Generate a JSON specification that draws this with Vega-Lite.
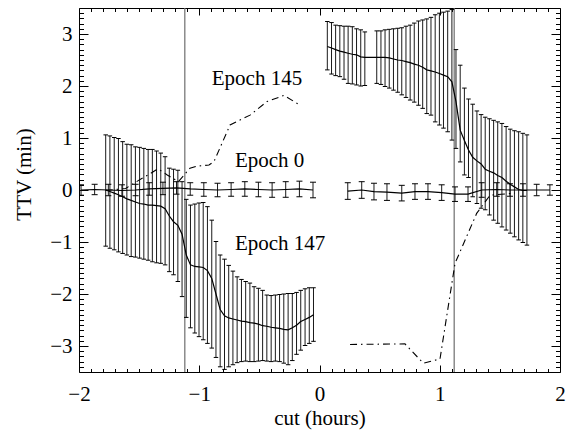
{
  "$schema": "https://vega.github.io/schema/vega-lite/v6.json",
  "autosize": {"type": "none"},
  "padding": {"left": 79, "top": 8, "right": 10, "bottom": 58},
  "width": 481,
  "height": 364,
  "background": "white",
  "config": {
    "view": {"stroke": "black", "strokeWidth": 1},
    "axis": {
      "labelFont": "Liberation Serif, Times New Roman, serif", "titleFont": "Liberation Serif, Times New Roman, serif",
      "labelFontSize": 21, "titleFontSize": 21, "titleFontWeight": "normal",
      "labelColor": "black", "titleColor": "black", "tickColor": "black", "tickWidth": 1,
      "grid": false, "domain": false, "labelFlush": false, "labelOverlap": false, "labelBound": false
    }
  },
  "datasets": {
    "vlines": [{"x": -1.12}, {"x": 1.12}],
    "bars": [
      {"s": "Epoch 147", "x": -1.778, "y": 0.00, "lo": -1.08, "hi": 1.06},
      {"s": "Epoch 147", "x": -1.743, "y": -0.03, "lo": -1.12, "hi": 1.04},
      {"s": "Epoch 147", "x": -1.707, "y": -0.06, "lo": -1.15, "hi": 1.01},
      {"s": "Epoch 147", "x": -1.672, "y": -0.09, "lo": -1.19, "hi": 0.99},
      {"s": "Epoch 147", "x": -1.637, "y": -0.13, "lo": -1.22, "hi": 0.93},
      {"s": "Epoch 147", "x": -1.602, "y": -0.17, "lo": -1.25, "hi": 0.88},
      {"s": "Epoch 147", "x": -1.566, "y": -0.20, "lo": -1.28, "hi": 0.87},
      {"s": "Epoch 147", "x": -1.531, "y": -0.23, "lo": -1.29, "hi": 0.83},
      {"s": "Epoch 147", "x": -1.496, "y": -0.26, "lo": -1.31, "hi": 0.82},
      {"s": "Epoch 147", "x": -1.461, "y": -0.27, "lo": -1.33, "hi": 0.80},
      {"s": "Epoch 147", "x": -1.425, "y": -0.29, "lo": -1.35, "hi": 0.78},
      {"s": "Epoch 147", "x": -1.390, "y": -0.29, "lo": -1.38, "hi": 0.78},
      {"s": "Epoch 147", "x": -1.355, "y": -0.30, "lo": -1.40, "hi": 0.75},
      {"s": "Epoch 147", "x": -1.320, "y": -0.31, "lo": -1.41, "hi": 0.71},
      {"s": "Epoch 147", "x": -1.284, "y": -0.36, "lo": -1.44, "hi": 0.64},
      {"s": "Epoch 147", "x": -1.249, "y": -0.50, "lo": -1.57, "hi": 0.42},
      {"s": "Epoch 147", "x": -1.214, "y": -0.61, "lo": -1.63, "hi": 0.40},
      {"s": "Epoch 147", "x": -1.178, "y": -0.68, "lo": -1.76, "hi": 0.38},
      {"s": "Epoch 147", "x": -1.143, "y": -0.85, "lo": -2.05, "hi": 0.16},
      {"s": "Epoch 147", "x": -1.108, "y": -1.25, "lo": -2.45, "hi": -0.18},
      {"s": "Epoch 147", "x": -1.073, "y": -1.44, "lo": -2.65, "hi": -0.29},
      {"s": "Epoch 147", "x": -1.037, "y": -1.47, "lo": -2.75, "hi": -0.27},
      {"s": "Epoch 147", "x": -1.002, "y": -1.48, "lo": -2.82, "hi": -0.25},
      {"s": "Epoch 147", "x": -0.967, "y": -1.49, "lo": -2.88, "hi": -0.24},
      {"s": "Epoch 147", "x": -0.932, "y": -1.55, "lo": -2.95, "hi": -0.32},
      {"s": "Epoch 147", "x": -0.896, "y": -1.70, "lo": -3.04, "hi": -0.58},
      {"s": "Epoch 147", "x": -0.861, "y": -2.00, "lo": -3.22, "hi": -0.99},
      {"s": "Epoch 147", "x": -0.826, "y": -2.30, "lo": -3.40, "hi": -1.25},
      {"s": "Epoch 147", "x": -0.790, "y": -2.42, "lo": -3.45, "hi": -1.33},
      {"s": "Epoch 147", "x": -0.755, "y": -2.46, "lo": -3.40, "hi": -1.45},
      {"s": "Epoch 147", "x": -0.720, "y": -2.48, "lo": -3.36, "hi": -1.56},
      {"s": "Epoch 147", "x": -0.685, "y": -2.50, "lo": -3.32, "hi": -1.67},
      {"s": "Epoch 147", "x": -0.649, "y": -2.52, "lo": -3.30, "hi": -1.72},
      {"s": "Epoch 147", "x": -0.614, "y": -2.53, "lo": -3.29, "hi": -1.76},
      {"s": "Epoch 147", "x": -0.579, "y": -2.55, "lo": -3.30, "hi": -1.79},
      {"s": "Epoch 147", "x": -0.544, "y": -2.56, "lo": -3.30, "hi": -1.86},
      {"s": "Epoch 147", "x": -0.508, "y": -2.58, "lo": -3.29, "hi": -1.89},
      {"s": "Epoch 147", "x": -0.473, "y": -2.61, "lo": -3.28, "hi": -1.93},
      {"s": "Epoch 147", "x": -0.438, "y": -2.62, "lo": -3.29, "hi": -2.02},
      {"s": "Epoch 147", "x": -0.402, "y": -2.64, "lo": -3.30, "hi": -2.03},
      {"s": "Epoch 147", "x": -0.367, "y": -2.65, "lo": -3.29, "hi": -2.02},
      {"s": "Epoch 147", "x": -0.332, "y": -2.66, "lo": -3.30, "hi": -2.01},
      {"s": "Epoch 147", "x": -0.297, "y": -2.68, "lo": -3.33, "hi": -2.00},
      {"s": "Epoch 147", "x": -0.261, "y": -2.69, "lo": -3.36, "hi": -1.99},
      {"s": "Epoch 147", "x": -0.226, "y": -2.65, "lo": -3.28, "hi": -1.99},
      {"s": "Epoch 147", "x": -0.191, "y": -2.60, "lo": -3.16, "hi": -1.97},
      {"s": "Epoch 147", "x": -0.156, "y": -2.53, "lo": -3.08, "hi": -1.93},
      {"s": "Epoch 147", "x": -0.120, "y": -2.49, "lo": -2.99, "hi": -1.90},
      {"s": "Epoch 147", "x": -0.085, "y": -2.45, "lo": -2.95, "hi": -1.88},
      {"s": "Epoch 147", "x": -0.050, "y": -2.40, "lo": -2.91, "hi": -1.88},
      {"s": "upper", "x": 0.065, "y": 2.76, "lo": 2.31, "hi": 3.24},
      {"s": "upper", "x": 0.100, "y": 2.73, "lo": 2.23, "hi": 3.22},
      {"s": "upper", "x": 0.134, "y": 2.70, "lo": 2.20, "hi": 3.17},
      {"s": "upper", "x": 0.169, "y": 2.67, "lo": 2.18, "hi": 3.16},
      {"s": "upper", "x": 0.204, "y": 2.65, "lo": 2.13, "hi": 3.15},
      {"s": "upper", "x": 0.238, "y": 2.63, "lo": 2.05, "hi": 3.15},
      {"s": "upper", "x": 0.273, "y": 2.61, "lo": 2.04, "hi": 3.14},
      {"s": "upper", "x": 0.308, "y": 2.60, "lo": 2.02, "hi": 3.10},
      {"s": "upper", "x": 0.343, "y": 2.56, "lo": 2.00, "hi": 3.08},
      {"s": "upper", "x": 0.377, "y": 2.55, "lo": 2.01, "hi": 3.04},
      {"s": "upper", "x": 0.476, "y": 2.55, "lo": 2.05, "hi": 3.06},
      {"s": "upper", "x": 0.511, "y": 2.55, "lo": 2.03, "hi": 3.06},
      {"s": "upper", "x": 0.545, "y": 2.55, "lo": 1.99, "hi": 3.08},
      {"s": "upper", "x": 0.580, "y": 2.54, "lo": 1.96, "hi": 3.09},
      {"s": "upper", "x": 0.615, "y": 2.52, "lo": 1.92, "hi": 3.10},
      {"s": "upper", "x": 0.650, "y": 2.50, "lo": 1.88, "hi": 3.11},
      {"s": "upper", "x": 0.684, "y": 2.49, "lo": 1.83, "hi": 3.12},
      {"s": "upper", "x": 0.719, "y": 2.47, "lo": 1.78, "hi": 3.15},
      {"s": "upper", "x": 0.754, "y": 2.45, "lo": 1.73, "hi": 3.17},
      {"s": "upper", "x": 0.788, "y": 2.42, "lo": 1.69, "hi": 3.21},
      {"s": "upper", "x": 0.823, "y": 2.40, "lo": 1.63, "hi": 3.25},
      {"s": "upper", "x": 0.858, "y": 2.36, "lo": 1.57, "hi": 3.27},
      {"s": "upper", "x": 0.892, "y": 2.31, "lo": 1.47, "hi": 3.29},
      {"s": "upper", "x": 0.927, "y": 2.29, "lo": 1.44, "hi": 3.32},
      {"s": "upper", "x": 0.962, "y": 2.27, "lo": 1.31, "hi": 3.37},
      {"s": "upper", "x": 0.997, "y": 2.24, "lo": 1.25, "hi": 3.40},
      {"s": "upper", "x": 1.031, "y": 2.21, "lo": 1.19, "hi": 3.42},
      {"s": "upper", "x": 1.066, "y": 2.18, "lo": 1.12, "hi": 3.44},
      {"s": "upper", "x": 1.101, "y": 2.08, "lo": 0.96, "hi": 3.47},
      {"s": "upper", "x": 1.135, "y": 1.70, "lo": 0.80, "hi": 2.70},
      {"s": "upper", "x": 1.170, "y": 1.15, "lo": 0.54, "hi": 2.40},
      {"s": "upper", "x": 1.205, "y": 0.95, "lo": 0.29, "hi": 1.96},
      {"s": "upper", "x": 1.239, "y": 0.77, "lo": 0.24, "hi": 1.75},
      {"s": "upper", "x": 1.274, "y": 0.63, "lo": -0.13, "hi": 1.65},
      {"s": "upper", "x": 1.309, "y": 0.56, "lo": -0.26, "hi": 1.52},
      {"s": "upper", "x": 1.344, "y": 0.50, "lo": -0.35, "hi": 1.45},
      {"s": "upper", "x": 1.378, "y": 0.40, "lo": -0.38, "hi": 1.40},
      {"s": "upper", "x": 1.413, "y": 0.36, "lo": -0.48, "hi": 1.37},
      {"s": "upper", "x": 1.448, "y": 0.33, "lo": -0.58, "hi": 1.34},
      {"s": "upper", "x": 1.482, "y": 0.28, "lo": -0.64, "hi": 1.31},
      {"s": "upper", "x": 1.517, "y": 0.24, "lo": -0.71, "hi": 1.28},
      {"s": "upper", "x": 1.552, "y": 0.17, "lo": -0.77, "hi": 1.22},
      {"s": "upper", "x": 1.586, "y": 0.11, "lo": -0.83, "hi": 1.17},
      {"s": "upper", "x": 1.621, "y": 0.06, "lo": -0.90, "hi": 1.14},
      {"s": "upper", "x": 1.656, "y": 0.01, "lo": -0.96, "hi": 1.12},
      {"s": "upper", "x": 1.691, "y": -0.01, "lo": -1.01, "hi": 1.09},
      {"s": "upper", "x": 1.725, "y": -0.01, "lo": -1.06, "hi": 1.06},
      {"s": "Epoch 0 left", "x": -1.983, "y": 0.00, "lo": -0.10, "hi": 0.10},
      {"s": "Epoch 0 left", "x": -1.870, "y": 0.01, "lo": -0.09, "hi": 0.11},
      {"s": "Epoch 0 left", "x": -1.756, "y": 0.00, "lo": -0.11, "hi": 0.11},
      {"s": "Epoch 0 left", "x": -1.643, "y": -0.01, "lo": -0.12, "hi": 0.10},
      {"s": "Epoch 0 left", "x": -1.529, "y": 0.00, "lo": -0.11, "hi": 0.11},
      {"s": "Epoch 0 left", "x": -1.416, "y": 0.02, "lo": -0.10, "hi": 0.14},
      {"s": "Epoch 0 left", "x": -1.302, "y": 0.03, "lo": -0.09, "hi": 0.15},
      {"s": "Epoch 0 left", "x": -1.189, "y": 0.04, "lo": -0.08, "hi": 0.16},
      {"s": "Epoch 0 left", "x": -1.075, "y": 0.02, "lo": -0.10, "hi": 0.14},
      {"s": "Epoch 0 left", "x": -0.962, "y": 0.01, "lo": -0.12, "hi": 0.14},
      {"s": "Epoch 0 left", "x": -0.848, "y": 0.00, "lo": -0.13, "hi": 0.13},
      {"s": "Epoch 0 left", "x": -0.735, "y": 0.01, "lo": -0.12, "hi": 0.14},
      {"s": "Epoch 0 left", "x": -0.621, "y": 0.02, "lo": -0.12, "hi": 0.16},
      {"s": "Epoch 0 left", "x": -0.508, "y": 0.01, "lo": -0.13, "hi": 0.15},
      {"s": "Epoch 0 left", "x": -0.394, "y": 0.00, "lo": -0.14, "hi": 0.14},
      {"s": "Epoch 0 left", "x": -0.281, "y": 0.01, "lo": -0.14, "hi": 0.16},
      {"s": "Epoch 0 left", "x": -0.167, "y": 0.02, "lo": -0.13, "hi": 0.17},
      {"s": "Epoch 0 left", "x": -0.054, "y": 0.00, "lo": -0.15, "hi": 0.15},
      {"s": "Epoch 0 right", "x": 0.235, "y": -0.02, "lo": -0.18, "hi": 0.14},
      {"s": "Epoch 0 right", "x": 0.351, "y": 0.00, "lo": -0.16, "hi": 0.16},
      {"s": "Epoch 0 right", "x": 0.453, "y": -0.03, "lo": -0.19, "hi": 0.13},
      {"s": "Epoch 0 right", "x": 0.561, "y": -0.04, "lo": -0.20, "hi": 0.12},
      {"s": "Epoch 0 right", "x": 0.684, "y": -0.06, "lo": -0.21, "hi": 0.09},
      {"s": "Epoch 0 right", "x": 0.794, "y": -0.03, "lo": -0.18, "hi": 0.12},
      {"s": "Epoch 0 right", "x": 0.902, "y": -0.03, "lo": -0.18, "hi": 0.12},
      {"s": "Epoch 0 right", "x": 1.016, "y": -0.05, "lo": -0.20, "hi": 0.10},
      {"s": "Epoch 0 right", "x": 1.127, "y": -0.08, "lo": -0.22, "hi": 0.06},
      {"s": "Epoch 0 right", "x": 1.235, "y": -0.08, "lo": -0.22, "hi": 0.06},
      {"s": "Epoch 0 right", "x": 1.349, "y": 0.00, "lo": -0.14, "hi": 0.14},
      {"s": "Epoch 0 right", "x": 1.474, "y": 0.01, "lo": -0.12, "hi": 0.14},
      {"s": "Epoch 0 right", "x": 1.584, "y": 0.00, "lo": -0.12, "hi": 0.12},
      {"s": "Epoch 0 right", "x": 1.692, "y": 0.00, "lo": -0.12, "hi": 0.12},
      {"s": "Epoch 0 right", "x": 1.806, "y": 0.00, "lo": -0.11, "hi": 0.11},
      {"s": "Epoch 0 right", "x": 1.916, "y": 0.00, "lo": -0.10, "hi": 0.10}
    ],
    "e145": [
      {"seg": "a", "x": -1.778, "y": -0.01},
      {"seg": "a", "x": -1.612, "y": 0.03},
      {"seg": "a", "x": -1.501, "y": 0.19},
      {"seg": "a", "x": -1.404, "y": 0.32},
      {"seg": "a", "x": -1.343, "y": 0.41},
      {"seg": "a", "x": -1.266, "y": 0.29},
      {"seg": "a", "x": -1.173, "y": 0.16},
      {"seg": "a", "x": -1.077, "y": 0.42},
      {"seg": "a", "x": -1.019, "y": 0.46},
      {"seg": "a", "x": -0.919, "y": 0.48},
      {"seg": "a", "x": -0.877, "y": 0.55},
      {"seg": "a", "x": -0.744, "y": 1.25},
      {"seg": "a", "x": -0.578, "y": 1.44},
      {"seg": "a", "x": -0.437, "y": 1.70},
      {"seg": "a", "x": -0.295, "y": 1.82},
      {"seg": "a", "x": -0.162, "y": 1.63},
      {"seg": "b", "x": 0.254, "y": -2.97},
      {"seg": "b", "x": 0.711, "y": -2.96},
      {"seg": "b", "x": 0.863, "y": -3.33},
      {"seg": "b", "x": 1.002, "y": -3.25},
      {"seg": "b", "x": 1.127, "y": -1.41},
      {"seg": "b", "x": 1.307, "y": -0.45},
      {"seg": "b", "x": 1.418, "y": -0.10},
      {"seg": "b", "x": 1.626, "y": -0.06}
    ],
    "labels": [
      {"x": -0.896, "y": 2.01, "label": "Epoch 145"},
      {"x": -0.703, "y": 0.45, "label": "Epoch 0"},
      {"x": -0.703, "y": -1.16, "label": "Epoch 147"}
    ]
  },
  "resolve": {"axis": {"x": "independent", "y": "independent"}},
  "layer": [
    {
      "data": {"name": "vlines"},
      "mark": {"type": "rule", "color": "#6e6e6e", "strokeWidth": 1.2},
      "encoding": {
        "x": {"field": "x", "type": "quantitative", "scale": {"domain": [-2, 2], "nice": false, "zero": false},
          "axis": {"orient": "bottom", "values": [-2, -1, 0, 1, 2], "ticks": false, "tickSize": 0, "labelPadding": 11, "format": "d",
            "title": "cut (hours)", "titleBaseline": "alphabetic", "titleY": 52, "titleX": 240.5, "titleAlign": "center"}}
      }
    },
    {
      "data": {"name": "bars"},
      "mark": {"type": "rule", "color": "#1a1a1a", "strokeWidth": 1, "clip": true},
      "encoding": {
        "x": {"field": "x", "type": "quantitative", "scale": {"domain": [-2, 2], "nice": false, "zero": false},
          "axis": {"orient": "bottom", "values": [-2, -1, 0, 1, 2], "labels": false, "tickSize": -7, "title": null}},
        "y": {"field": "lo", "type": "quantitative", "scale": {"domain": [-3.5, 3.5], "nice": false, "zero": false},
          "axis": {"orient": "left", "values": [-3, -2, -1, 0, 1, 2, 3], "ticks": false, "tickSize": 0, "labelPadding": 7, "format": "d",
            "title": "TTV (min)", "titleBaseline": "alphabetic", "titleAngle": 270, "titleX": -49, "titleY": 166, "titleAlign": "center"}},
        "y2": {"field": "hi"}
      }
    },
    {
      "data": {"name": "bars"},
      "mark": {"type": "tick", "orient": "horizontal", "color": "black", "thickness": 1, "opacity": 1, "clip": true},
      "encoding": {
        "x": {"field": "x", "type": "quantitative", "scale": {"domain": [-2, 2], "nice": false, "zero": false},
          "axis": {"orient": "bottom", "values": [-1.9,-1.8,-1.7,-1.6,-1.5,-1.4,-1.3,-1.2,-1.1,-0.9,-0.8,-0.7,-0.6,-0.5,-0.4,-0.3,-0.2,-0.1,0.1,0.2,0.3,0.4,0.5,0.6,0.7,0.8,0.9,1.1,1.2,1.3,1.4,1.5,1.6,1.7,1.8,1.9], "labels": false, "tickSize": -3.5, "title": null}},
        "y": {"field": "lo", "type": "quantitative", "scale": {"domain": [-3.5, 3.5], "nice": false, "zero": false},
          "axis": {"orient": "left", "values": [-3, -2, -1, 0, 1, 2, 3], "labels": false, "tickSize": -9, "title": null}},
        "size": {"condition": {"test": "datum.s == 'Epoch 0 left' || datum.s == 'Epoch 0 right'", "value": 6}, "value": 4.5}
      }
    },
    {
      "data": {"name": "bars"},
      "mark": {"type": "tick", "orient": "horizontal", "color": "black", "thickness": 1, "opacity": 1, "clip": true},
      "encoding": {
        "x": {"field": "x", "type": "quantitative", "scale": {"domain": [-2, 2], "nice": false, "zero": false},
          "axis": {"orient": "top", "values": [-2, -1, 0, 1, 2], "labels": false, "tickSize": -7, "title": null}},
        "y": {"field": "hi", "type": "quantitative", "scale": {"domain": [-3.5, 3.5], "nice": false, "zero": false},
          "axis": {"orient": "left", "values": [-3.4,-3.3,-3.2,-3.1,-2.9,-2.8,-2.7,-2.6,-2.5,-2.4,-2.3,-2.2,-2.1,-1.9,-1.8,-1.7,-1.6,-1.5,-1.4,-1.3,-1.2,-1.1,-0.9,-0.8,-0.7,-0.6,-0.5,-0.4,-0.3,-0.2,-0.1,0.1,0.2,0.3,0.4,0.5,0.6,0.7,0.8,0.9,1.1,1.2,1.3,1.4,1.5,1.6,1.7,1.8,1.9,2.1,2.2,2.3,2.4,2.5,2.6,2.7,2.8,2.9,3.1,3.2,3.3,3.4], "labels": false, "tickSize": -4.5, "title": null}},
        "size": {"condition": {"test": "datum.s == 'Epoch 0 left' || datum.s == 'Epoch 0 right'", "value": 6}, "value": 4.5}
      }
    },
    {
      "data": {"name": "bars"},
      "mark": {"type": "line", "color": "black", "strokeWidth": 1.2, "clip": true},
      "encoding": {
        "x": {"field": "x", "type": "quantitative", "scale": {"domain": [-2, 2], "nice": false, "zero": false},
          "axis": {"orient": "top", "values": [-1.9,-1.8,-1.7,-1.6,-1.5,-1.4,-1.3,-1.2,-1.1,-0.9,-0.8,-0.7,-0.6,-0.5,-0.4,-0.3,-0.2,-0.1,0.1,0.2,0.3,0.4,0.5,0.6,0.7,0.8,0.9,1.1,1.2,1.3,1.4,1.5,1.6,1.7,1.8,1.9], "labels": false, "tickSize": -3.5, "title": null}},
        "y": {"field": "y", "type": "quantitative", "scale": {"domain": [-3.5, 3.5], "nice": false, "zero": false},
          "axis": {"orient": "right", "values": [-3, -2, -1, 0, 1, 2, 3], "labels": false, "tickSize": -9, "title": null}},
        "detail": {"field": "s"}
      }
    },
    {
      "data": {"name": "e145"},
      "mark": {"type": "line", "color": "black", "strokeWidth": 1.1, "strokeDash": [7, 4, 1.5, 4], "clip": true},
      "encoding": {
        "x": {"field": "x", "type": "quantitative", "scale": {"domain": [-2, 2], "nice": false, "zero": false}, "axis": null},
        "y": {"field": "y", "type": "quantitative", "scale": {"domain": [-3.5, 3.5], "nice": false, "zero": false},
          "axis": {"orient": "right", "values": [-3.4,-3.3,-3.2,-3.1,-2.9,-2.8,-2.7,-2.6,-2.5,-2.4,-2.3,-2.2,-2.1,-1.9,-1.8,-1.7,-1.6,-1.5,-1.4,-1.3,-1.2,-1.1,-0.9,-0.8,-0.7,-0.6,-0.5,-0.4,-0.3,-0.2,-0.1,0.1,0.2,0.3,0.4,0.5,0.6,0.7,0.8,0.9,1.1,1.2,1.3,1.4,1.5,1.6,1.7,1.8,1.9,2.1,2.2,2.3,2.4,2.5,2.6,2.7,2.8,2.9,3.1,3.2,3.3,3.4], "labels": false, "tickSize": -4.5, "title": null}},
        "detail": {"field": "seg"}
      }
    },
    {
      "data": {"name": "labels"},
      "mark": {"type": "text", "font": "Liberation Serif, Times New Roman, serif", "fontSize": 21, "color": "black", "align": "left", "baseline": "alphabetic"},
      "encoding": {
        "x": {"field": "x", "type": "quantitative", "scale": {"domain": [-2, 2], "nice": false, "zero": false}, "axis": null},
        "y": {"field": "y", "type": "quantitative", "scale": {"domain": [-3.5, 3.5], "nice": false, "zero": false}, "axis": null},
        "text": {"field": "label"}
      }
    }
  ]
}
